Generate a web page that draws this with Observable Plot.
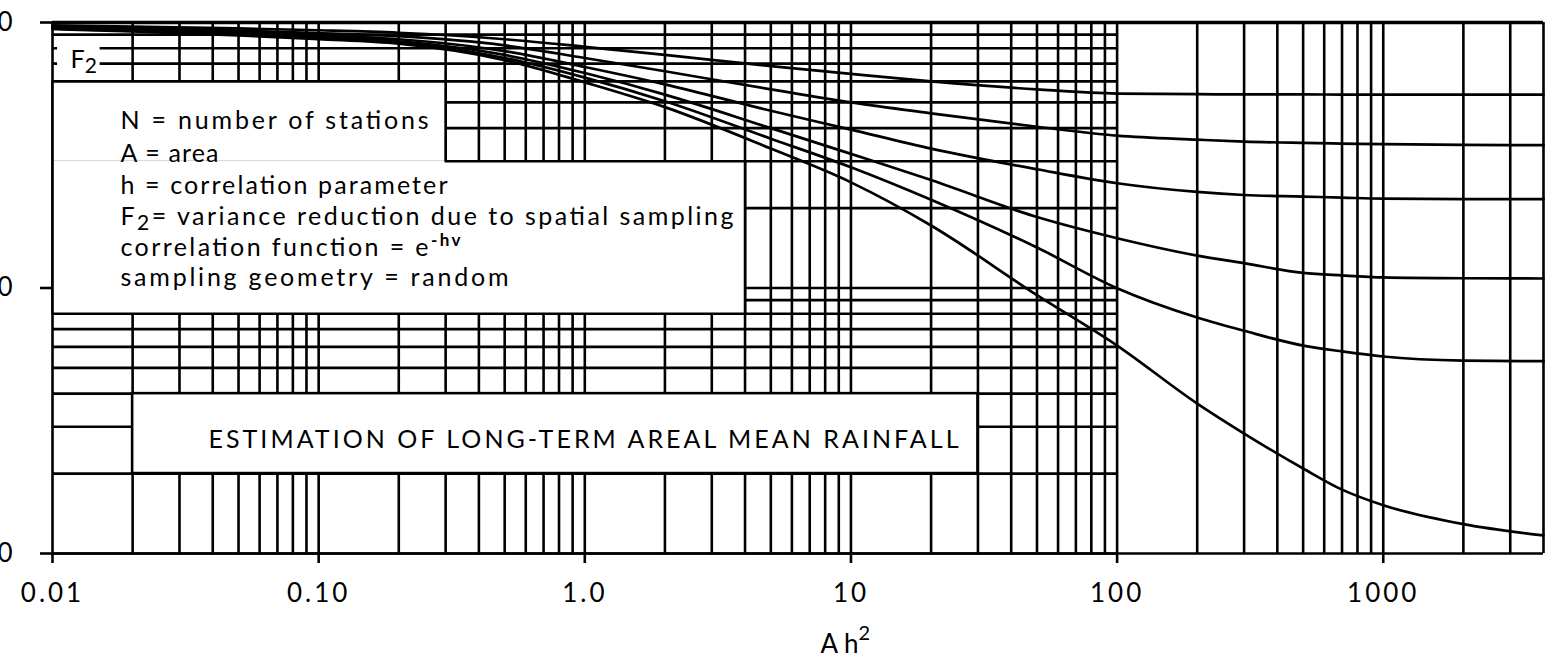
<!DOCTYPE html>
<html>
<head>
<meta charset="utf-8">
<script src="https://cdn.jsdelivr.net/npm/d3@7"></script>
<script src="https://cdn.jsdelivr.net/npm/@observablehq/plot@0.6"></script>
<style>
  html, body { margin: 0; padding: 0; background: #fff; }
  #chart svg { display: block; }
</style>
</head>
<body>
<div id="chart"></div>
<script>
// Ah² values at which the curves are read
const ah2 = [0.01, 0.02, 0.05, 0.1, 0.2, 0.5, 1, 2, 5, 10, 20, 50, 100, 200, 300, 500, 700, 1000, 2000, 4000];

// F2 (variance reduction) for each network size N
const f2N2   = [0.975, 0.965, 0.95, 0.935, 0.915, 0.865, 0.81, 0.755, 0.685, 0.64, 0.60, 0.56, 0.54, 0.537, 0.536, 0.536, 0.535, 0.535, 0.535, 0.535];
const f2N3   = [0.965, 0.952, 0.932, 0.912, 0.888, 0.82, 0.735, 0.655, 0.56, 0.50, 0.455, 0.405, 0.375, 0.362, 0.356, 0.352, 0.35, 0.348, 0.346, 0.345];
const f2N5   = [0.958, 0.942, 0.918, 0.895, 0.865, 0.78, 0.68, 0.585, 0.465, 0.395, 0.335, 0.28, 0.248, 0.23, 0.224, 0.221, 0.219, 0.217, 0.216, 0.216];
const f2N10  = [0.952, 0.935, 0.908, 0.882, 0.85, 0.755, 0.645, 0.535, 0.40, 0.32, 0.255, 0.185, 0.154, 0.1325, 0.124, 0.114, 0.1115, 0.1096, 0.1088, 0.1086];
const f2N20  = [0.948, 0.93, 0.902, 0.874, 0.84, 0.735, 0.62, 0.505, 0.365, 0.285, 0.215, 0.142, 0.0998, 0.0774, 0.069, 0.0607, 0.0577, 0.0552, 0.0533, 0.053];
const f2N100 = [0.945, 0.925, 0.895, 0.866, 0.832, 0.722, 0.595, 0.48, 0.335, 0.25, 0.172, 0.094, 0.0607, 0.0367, 0.0283, 0.0209, 0.0174, 0.0152, 0.0129, 0.0117];

const stations = [2, 3, 5, 10, 20, 100];
const seriesByN = [f2N2, f2N3, f2N5, f2N10, f2N20, f2N100];

// log-paper rulings: multiples 1..9 of each decade
const gridSteps = [1, 2, 3, 4, 5, 6, 7, 8, 9];
const xDecades = [0.01, 0.1, 1, 10, 100, 1000];
const yDecades = [0.01, 0.1];

// axis ticks and their printed labels
const xMajor = [0.01, 0.1, 1, 10, 100, 1000];
const xTickLabels = ["0.01", "0.10", "1.0", "10", "100", "1000"];
const yMajor = [1, 0.1, 0.01];
const yTickLabels = ["1.0", "0.10", "0.010"];

// legend and title wording (_{..} subscript, ^{..} superscript)
const legendLines = [
  "N = number of stations",
  "A = area",
  "h = correlation parameter",
  "F_{2}= variance reduction due to spatial sampling",
  "correlation function = e^{-hv}",
  "sampling geometry = random"
];
const titleText = "ESTIMATION OF LONG-TERM AREAL MEAN RAINFALL";
const yName = "F_{2}";
const xName = "A h^{2}";

// ---- derived tables ----
const rows = stations.flatMap((n, k) => ah2.map((a, i) => ({n, ah2: a, f2: seriesByN[k][i]})));
const xMax = 4000;
const vLines = xDecades.flatMap(d => gridSteps.map(s => +(d * s).toPrecision(3))).filter(v => v <= xMax);
const hLines = yDecades.flatMap(d => gridSteps.map(s => +(d * s).toPrecision(3)));
const xLabel = new Map(xMajor.map((d, i) => [d, xTickLabels[i]]));
const yLabel = new Map(yMajor.map((d, i) => [d, yTickLabels[i]]));

// white panels laid over the ruling (in data units, on grid lines)
const legendPanels = [
  {x1: 0.01, x2: 0.3, y1: 0.3, y2: 0.6},
  {x1: 0.01, x2: 4, y1: 0.08, y2: 0.3}
];
const legendOutline = [
  {x: 0.01, y: 0.6}, {x: 0.3, y: 0.6}, {x: 0.3, y: 0.3}, {x: 4, y: 0.3},
  {x: 4, y: 0.08}, {x: 0.01, y: 0.08}, {x: 0.01, y: 0.6}
];
const titlePanel = [{x1: 0.02, x2: 30, y1: 0.02, y2: 0.04}];
const namePanel = [{x1: 0.01045, x2: 0.0151, y1: 0.648, y2: 0.87}];

// annotation placement in pixels from a frame corner
const legendLayout = {dx: 68, dy: [106, 139, 171, 202, 233, 263], width: [308, 98, 327, 613, 340, 388]};
const textWidths = new Map(legendLines.map((t, i) => [t, legendLayout.width[i]]));
textWidths.set(titleText, 750);

const ink = "#000";
const sw = 2.6;

const textMark = (s, opts) => Plot.text([s], {text: d => d, lineAnchor: "bottom", textAnchor: "start", fill: ink, ...opts});

const chart = Plot.plot({
  width: 1555,
  height: 663,
  marginTop: 22,
  marginBottom: 110,
  marginLeft: 52,
  marginRight: 12,
  x: {type: "log", domain: [0.01, xMax]},
  y: {type: "log", domain: [0.01, 1]},
  style: {fontFamily: "Lato, 'Open Sans', sans-serif", fontSize: "26px", background: "white", color: "black"},
  marks: [
    // ruling
    Plot.ruleX(vLines, {y1: 0.01, y2: 1, stroke: ink, strokeWidth: sw}),
    Plot.ruleY(hLines, {x1: 0.01, x2: 100, stroke: ink, strokeWidth: sw}),
    Plot.ruleY([1], {x1: 0.01, x2: xMax, stroke: ink, strokeWidth: 3.4}),
    Plot.ruleY([0.01], {x1: 0.01, x2: xMax, stroke: ink, strokeWidth: sw}),
    // panels
    Plot.rect(legendPanels, {x1: "x1", x2: "x2", y1: "y1", y2: "y2", fill: "white"}),
    Plot.line(legendOutline, {x: "x", y: "y", stroke: ink, strokeWidth: sw}),
    Plot.rect(titlePanel, {x1: "x1", x2: "x2", y1: "y1", y2: "y2", fill: "white", stroke: ink, strokeWidth: sw}),
    Plot.rect(namePanel, {x1: "x1", x2: "x2", y1: "y1", y2: "y2", fill: "white"}),
    // curves
    Plot.line(rows, {x: "ah2", y: "f2", z: "n", curve: "monotone-x", stroke: ink, strokeWidth: 2.7}),
    // axes
    Plot.axisX(xMajor, {tickSize: 10, tickPadding: 20, tickFormat: d => xLabel.get(d), stroke: ink, strokeWidth: sw, fontSize: 26, label: null}),
    Plot.axisY(yMajor, {tickSize: 12, tickPadding: 28, tickFormat: d => yLabel.get(d), stroke: ink, strokeWidth: sw, fontSize: 26, label: null}),
    // text
    ...legendLines.map((s, i) => textMark(s, {frameAnchor: "top-left", dx: legendLayout.dx, dy: legendLayout.dy[i], fontSize: 25})),
    textMark(titleText, {frameAnchor: "top-left", dx: 156, dy: 425, fontSize: 25}),
    textMark(yName, {frameAnchor: "top-left", dx: 18, dy: 45, fontSize: 25}),
    textMark(xName, {frameAnchor: "bottom-left", dx: 768, dy: 99, fontSize: 26})
  ]
});

// turn _{..} and ^{..} into shifted tspans, and fit lettered widths
const NS = "http://www.w3.org/2000/svg";
chart.querySelectorAll("text").forEach(t => {
  const raw = t.textContent;
  const width = textWidths.get(raw);
  const isAxisName = raw === xName || raw === yName;
  if (/[_^]\{/.test(raw)) {
    const parts = raw.split(/([_^]\{[^}]*\})/).filter(p => p.length);
    t.textContent = "";
    let shift = 0;
    for (const p of parts) {
      const m = p.match(/^([_^])\{([^}]*)\}$/);
      const span = document.createElementNS(NS, "tspan");
      if (m) {
        const sub = m[1] === "_";
        const d = sub ? 5 : (isAxisName ? -13 : -10);
        span.setAttribute("dy", d - shift);
        span.setAttribute("font-size", sub ? "21" : (isAxisName ? "20" : "17"));
        if (!sub && !isAxisName) span.setAttribute("font-weight", "bold");
        span.textContent = m[2];
        shift = d;
      } else {
        span.setAttribute("dy", -shift);
        span.textContent = p;
        shift = 0;
      }
      t.appendChild(span);
    }
  }
  if (width) {
    t.setAttribute("textLength", width);
    t.setAttribute("lengthAdjust", "spacing");
  }
});
chart.querySelectorAll('g[aria-label="x-axis tick label"] text').forEach(t => t.style.letterSpacing = "3px");

document.getElementById("chart").appendChild(chart);
</script>
</body>
</html>
